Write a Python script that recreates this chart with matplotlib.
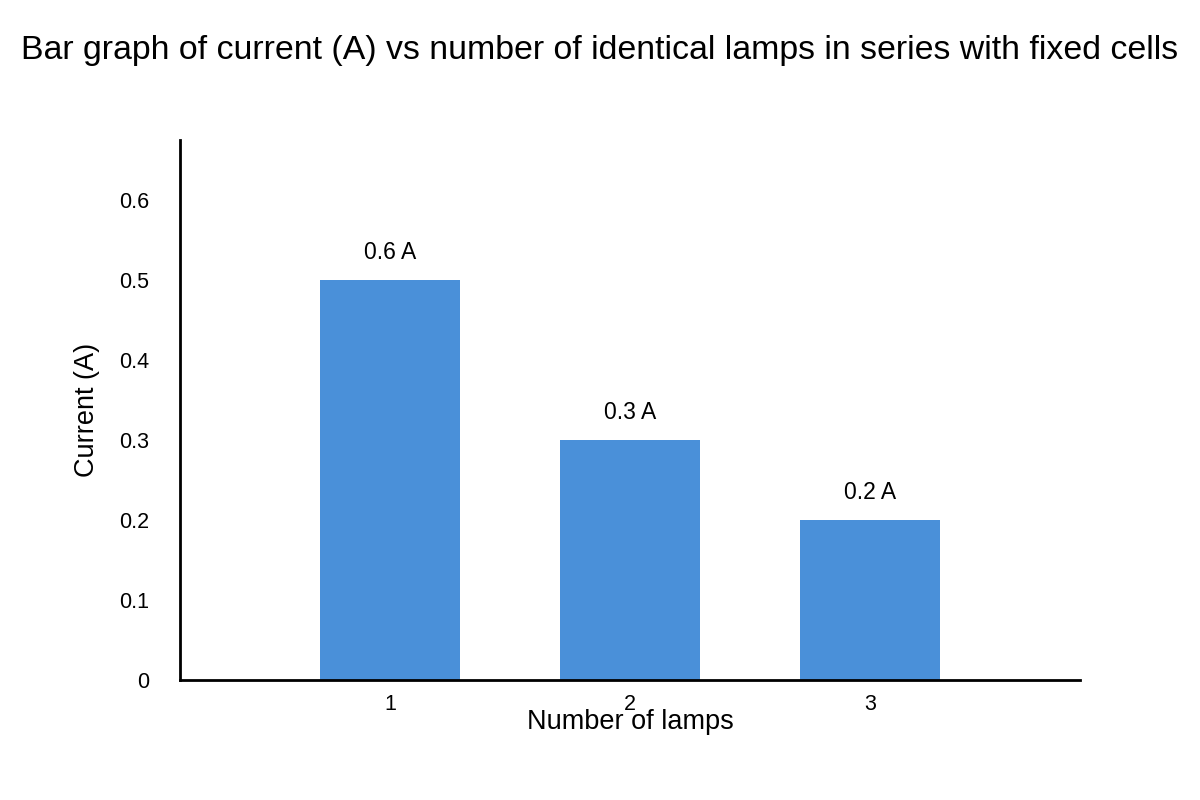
import matplotlib
matplotlib.use("Agg")
import matplotlib.pyplot as plt

plt.rcParams["font.family"] = ["Liberation Sans", "DejaVu Sans"]

lamps = [1, 2, 3]
current = [0.5, 0.3, 0.2]
bar_labels = ["0.6 A", "0.3 A", "0.2 A"]
yticks = [0, 0.1, 0.2, 0.3, 0.4, 0.5, 0.6]
ytick_labels = ["0", "0.1", "0.2", "0.3", "0.4", "0.5", "0.6"]

fig = plt.figure(figsize=(12, 8), dpi=100)
ax = fig.add_axes([0.15, 0.15, 0.75, 0.675])

bars = ax.bar(lamps, current, width=0.583, color="#4a90d9")
for b, lab in zip(bars, bar_labels):
    ax.text(b.get_x() + b.get_width() / 2, b.get_height() + 0.02, lab,
            ha="center", va="bottom", fontsize=16.5)

ax.set_xlim(0.125, 3.875)
ax.set_ylim(0, 0.675)
ax.set_xticks(lamps)
ax.set_xticklabels([str(n) for n in lamps], fontsize=15.5)
ax.set_yticks(yticks)
ax.set_yticklabels(ytick_labels, fontsize=15.5)
ax.tick_params(length=0)
ax.tick_params(axis="y", pad=22)
ax.tick_params(axis="x", pad=10)

for s in ["top", "right"]:
    ax.spines[s].set_visible(False)
for s in ["left", "bottom"]:
    ax.spines[s].set_linewidth(2)

# the reference has the x label sitting over the middle tick label
ax.set_xlabel("Number of lamps", fontsize=19.5, labelpad=-4)
ax.set_ylabel("Current (A)", fontsize=19.5, labelpad=14)

fig.text(0.5, 0.937, "Bar graph of current (A) vs number of identical lamps in series with fixed cells",
         ha="center", va="center", fontsize=24.4)

fig.savefig("out.png", dpi=100)
